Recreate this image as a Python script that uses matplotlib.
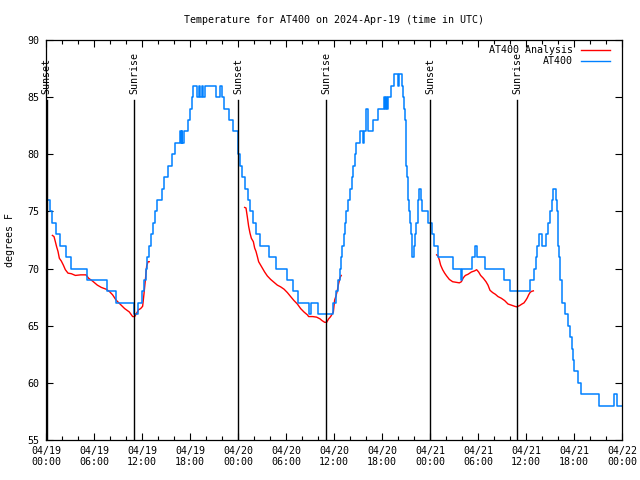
import matplotlib
matplotlib.use("Agg")
import matplotlib.pyplot as plt
from matplotlib.ticker import MultipleLocator

# data (hours since 04/19 00:00 UTC) ----------------
obs_hours = [0.25, 0.45, 0.75, 1.25, 1.8, 2.45, 3.15, 5.1, 7.6, 8.75, 11.05, 11.45,
             12.0, 12.25, 12.45, 12.65, 12.9, 13.15, 13.4, 13.65, 13.9, 14.55, 14.75,
             15.3, 15.8, 16.1, 16.75, 16.85, 16.95, 17.05, 17.25, 17.75, 18.0, 18.2,
             18.4, 18.9, 19.1, 19.3, 19.5, 19.65, 19.85, 21.25, 21.75, 21.95, 22.2,
             22.9, 23.4, 23.95, 24.05, 24.25, 24.55, 24.9, 25.2, 25.55, 25.9, 26.3,
             26.7, 27.85, 28.7, 30.1, 30.9, 31.5, 32.9, 33.1, 34.0, 35.9, 36.2, 36.45,
             36.7, 36.9, 37.05, 37.2, 37.35, 37.55, 37.75, 37.95, 38.2, 38.4, 38.65,
             38.8, 39.3, 39.6, 39.75, 39.95, 40.05, 40.2, 40.3, 40.9, 41.55, 42.2,
             42.35, 42.5, 42.65, 42.8, 43.15, 43.5, 43.95, 44.1, 44.5, 44.65, 44.75,
             44.85, 44.95, 45.05, 45.15, 45.25, 45.35, 45.5, 45.6, 45.75, 46.0, 46.15,
             46.3, 46.45, 46.55, 46.65, 46.85, 47.05, 47.75, 48.2, 48.55, 49.05, 50.9,
             51.9, 52.05, 52.2, 53.3, 53.65, 53.9, 54.9, 57.3, 57.95, 60.5, 61.0, 61.2,
             61.4, 61.6, 62.0, 62.5, 62.75, 63.05, 63.2, 63.35, 63.75, 63.9, 63.95,
             64.0, 64.05, 64.15, 64.2, 64.3, 64.45, 64.85, 65.3, 65.55, 65.7, 65.85,
             66.0, 66.45, 66.85, 69.1, 71.05, 71.35, 72.0]
obs_temps = [76, 75, 74, 73, 72, 71, 70, 69, 68, 67, 66, 67,
             68, 69, 70, 71, 72, 73, 74, 75, 76, 77, 78,
             79, 80, 81, 82, 81, 82, 81, 82, 83, 84, 85,
             86, 85, 86, 85, 86, 85, 86, 85, 86, 85, 84,
             83, 82, 81, 80, 79, 78, 77, 76, 75, 74, 73,
             72, 71, 70, 69, 68, 67, 66, 67, 66, 67, 68, 69,
             70, 71, 72, 73, 74, 75, 76, 77, 78, 79, 80,
             81, 82, 81, 82, 83, 84, 83, 82, 83, 84, 85,
             84, 85, 84, 85, 86, 87, 86, 87, 86, 85, 84,
             83, 81, 79, 78, 76, 75, 74, 73, 71, 72, 73,
             74, 75, 76, 77, 76, 75, 74, 73, 72, 71, 70,
             69, 70, 70, 71, 72, 71, 70, 69, 68, 69, 70, 71,
             72, 73, 72, 73, 74, 75, 76, 77, 76, 75, 74,
             73, 72, 71, 70, 69, 67, 66, 65, 64, 63, 62,
             61, 60, 59, 58, 59, 58, 58]

ana1_hours = [0.8, 1.0, 1.17, 1.33, 1.5, 1.67, 1.92, 2.17, 2.42, 2.75, 3.17, 3.67, 4.33,
              5.0, 5.33, 5.83, 6.42, 6.92, 7.5, 7.92, 8.33, 8.75, 9.25, 9.83, 10.42,
              10.83, 11.08, 11.33, 11.58, 11.83, 12.08, 12.25, 12.42, 12.58, 12.75, 12.9]
ana1_temps = [72.9, 72.8, 72.35, 71.9, 71.5, 70.9, 70.65, 70.3, 69.9, 69.6, 69.55, 69.4, 69.45,
              69.45, 69.15, 68.9, 68.55, 68.35, 68.2, 68.0, 67.7, 67.25, 66.9, 66.5, 66.2,
              65.8, 65.8, 66.1, 66.4, 66.5, 66.7, 67.8, 69.0, 70.2, 70.6, 70.6]

ana2_hours = [24.83, 25.0, 25.17, 25.33, 25.5, 25.67, 25.92, 26.08, 26.25, 26.42, 26.58,
              26.83, 27.08, 27.33, 27.67, 28.08, 28.5, 28.92, 29.33, 29.75, 30.17, 30.58,
              31.0, 31.42, 31.83, 32.25, 32.67, 32.83, 33.33, 33.83, 34.25, 34.5, 34.83,
              35.08, 35.33, 35.58, 35.92, 36.08, 36.25, 36.42, 36.58, 36.75, 36.9]
ana2_temps = [75.35, 75.3, 74.5, 73.7, 73.1, 72.65, 72.35, 71.8, 71.5, 71.05, 70.6,
              70.3, 70.0, 69.7, 69.35, 69.05, 68.8, 68.55, 68.4, 68.2, 67.9, 67.55,
              67.2, 66.9, 66.5, 66.2, 65.95, 65.8, 65.8, 65.75, 65.6, 65.45, 65.3,
              65.3, 65.6, 65.8, 66.2, 67.25, 67.6, 68.1, 68.7, 69.2, 69.4]

ana3_hours = [48.83, 49.0, 49.17, 49.33, 49.58, 49.83, 50.08, 50.42, 50.83, 51.25, 51.67,
              51.92, 52.17, 52.42, 52.75, 53.17, 53.58, 53.83, 54.08, 54.33, 54.67, 55.0,
              55.25, 55.5, 55.83, 56.17, 56.5, 56.92, 57.33, 57.75, 58.17, 58.58, 58.83,
              59.17, 59.5, 59.75, 60.0, 60.17, 60.33, 60.5, 60.67, 60.92]
ana3_temps = [71.2, 71.1, 70.75, 70.3, 69.9, 69.6, 69.35, 69.05, 68.85, 68.8, 68.75,
              68.85, 69.2, 69.4, 69.5, 69.7, 69.8, 69.9, 69.7, 69.4, 69.15, 68.85,
              68.55, 68.1, 67.9, 67.75, 67.55, 67.4, 67.2, 66.9, 66.8, 66.7, 66.65,
              66.75, 66.9, 67.0, 67.25, 67.45, 67.7, 67.9, 68.0, 68.05]

sun_hours = [0.1, 11.0, 24.05, 35.0, 48.05, 58.9]
sun_names = ["Sunset", "Sunrise", "Sunset", "Sunrise", "Sunset", "Sunrise"]

tick_hours = list(range(0, 73, 6))
tick_labels = ["04/19\n00:00", "04/19\n06:00", "04/19\n12:00", "04/19\n18:00",
               "04/20\n00:00", "04/20\n06:00", "04/20\n12:00", "04/20\n18:00",
               "04/21\n00:00", "04/21\n06:00", "04/21\n12:00", "04/21\n18:00",
               "04/22\n00:00"]
#---------------------------------------------------

plt.rcParams["font.family"] = "DejaVu Sans Mono"
plt.rcParams["font.size"] = 7.2

fig = plt.figure(figsize=(6.4, 4.8), dpi=100)
ax = fig.add_axes([46 / 640, 40 / 480, 576 / 640, 400 / 480])

red = "#ff0000"
blue = "#0080ff"

for hh, tt in [(ana1_hours, ana1_temps), (ana2_hours, ana2_temps), (ana3_hours, ana3_temps)]:
    ax.plot(hh, tt, color=red, lw=1.0)
ax.plot(obs_hours, obs_temps, color=blue, lw=1.1, drawstyle="steps-post")

for h, name in zip(sun_hours, sun_names):
    ax.plot([h, h], [55, 84.75], color="black", lw=1.0)
    ax.text(h, 85.3, name, rotation=90, ha="center", va="bottom", clip_on=False)

ax.set_xlim(0, 72)
ax.set_ylim(55, 90)
ax.set_xticks(tick_hours)
ax.set_xticklabels(tick_labels)
ax.xaxis.set_minor_locator(MultipleLocator(2))
ax.set_yticks(range(55, 91, 5))
ax.tick_params(which="both", direction="in", top=True, right=True, width=0.8)
ax.tick_params(which="major", length=5, pad=4)
ax.tick_params(axis="y", pad=5)
ax.tick_params(which="minor", length=3)
for s in ax.spines.values():
    s.set_linewidth(0.9)

# legend, gnuplot style: text then line sample
ax.text(0.915, 0.975, "AT400 Analysis", transform=ax.transAxes, ha="right", va="center")
ax.plot([0.929, 0.979], [0.975, 0.975], color=red, lw=1.0, transform=ax.transAxes)
ax.text(0.915, 0.9475, "AT400", transform=ax.transAxes, ha="right", va="center")
ax.plot([0.929, 0.979], [0.9475, 0.9475], color=blue, lw=1.0, transform=ax.transAxes)

fig.text(334 / 640, 1 - 20 / 480, "Temperature for AT400 on 2024-Apr-19 (time in UTC)",
         ha="center", va="center")
fig.text(10 / 640, 0.5, "degrees F", rotation=90, ha="center", va="center")

fig.savefig("out.png", dpi=100)
